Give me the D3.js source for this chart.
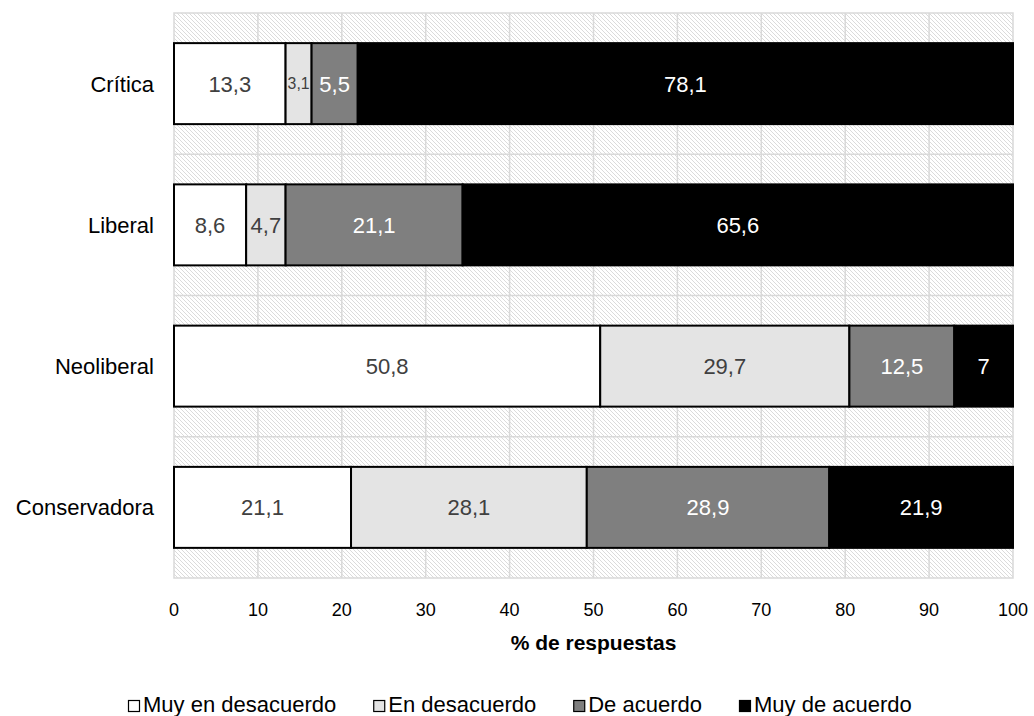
<!DOCTYPE html>
<html>
<head>
<meta charset="utf-8">
<script src="https://cdn.jsdelivr.net/npm/d3@7"></script>
<style>
  html, body { margin: 0; padding: 0; background: #fff; }
  svg { display: block; font-family: "Liberation Sans", Arial, Helvetica, sans-serif; }
</style>
</head>
<body>
<svg id="chart" width="1034" height="716"></svg>
<script>
// Orientación ideológica y grado de acuerdo (% de respuestas)
const categories = ["Crítica", "Liberal", "Neoliberal", "Conservadora"];
const seriesNames = ["Muy en desacuerdo", "En desacuerdo", "De acuerdo", "Muy de acuerdo"];
const muyEnDesacuerdo = [13.3, 8.6, 50.8, 21.1];
const enDesacuerdo    = [3.1, 4.7, 29.7, 28.1];
const deAcuerdo       = [5.5, 21.1, 12.5, 28.9];
const muyDeAcuerdo    = [78.1, 65.6, 7, 21.9];
const xTicks = [0, 10, 20, 30, 40, 50, 60, 70, 80, 90, 100];
const axisTitle = "% de respuestas";

const seriesValues = [muyEnDesacuerdo, enDesacuerdo, deAcuerdo, muyDeAcuerdo];
const fills = ["#ffffff", "#e4e4e4", "#7f7f7f", "#000000"];
const labelColors = ["#404040", "#404040", "#ffffff", "#ffffff"];

const rows = categories.map((c, i) => {
  const r = { cat: c };
  seriesNames.forEach((s, j) => r[s] = seriesValues[j][i]);
  return r;
});
const stacked = d3.stack().keys(seriesNames)(rows);

const svg = d3.select("#chart");
const plot = { left: 174, right: 1013, top: 13, bottom: 578 };

const x = d3.scaleLinear().domain([0, 100]).range([plot.left, plot.right]);
const y = d3.scaleBand().domain(categories).range([plot.top, plot.bottom])
  .paddingInner(0.4266).paddingOuter(0.2133);
const yOuter = d3.scaleBand().domain(categories).range([plot.top, plot.bottom]).padding(0);

// diagonal hatch for the plot area
const defs = svg.append("defs");
const pat = defs.append("pattern")
  .attr("id", "hatch").attr("patternUnits", "userSpaceOnUse")
  .attr("width", 4).attr("height", 4);
pat.append("rect").attr("width", 4).attr("height", 4).attr("fill", "#ffffff");
pat.append("path")
  .attr("d", "M-1,-1 L5,5 M3,-1 L5,1 M-1,3 L1,5")
  .attr("stroke", "#d2d2d2").attr("stroke-width", 0.8);

svg.append("rect")
  .attr("x", plot.left).attr("y", plot.top)
  .attr("width", plot.right - plot.left).attr("height", plot.bottom - plot.top)
  .attr("fill", "url(#hatch)");

// vertical gridlines
svg.append("g").selectAll("line").data(xTicks.slice(1, -1)).join("line")
  .attr("x1", d => x(d)).attr("x2", d => x(d))
  .attr("y1", plot.top).attr("y2", plot.bottom)
  .attr("stroke", "#d9d9d9").attr("stroke-width", 1.5);

// horizontal gridlines between categories
svg.append("g").selectAll("line").data(categories.slice(1)).join("line")
  .attr("x1", plot.left).attr("x2", plot.right)
  .attr("y1", d => yOuter(d)).attr("y2", d => yOuter(d))
  .attr("stroke", "#d9d9d9").attr("stroke-width", 1.5);

// plot border
svg.append("rect")
  .attr("x", plot.left).attr("y", plot.top)
  .attr("width", plot.right - plot.left).attr("height", plot.bottom - plot.top)
  .attr("fill", "none").attr("stroke", "#d9d9d9").attr("stroke-width", 1.5);

// stacked bars
const layers = svg.append("g").selectAll("g").data(stacked).join("g")
  .attr("fill", (d, i) => fills[i]);

layers.selectAll("rect").data(d => d).join("rect")
  .attr("x", d => x(d[0]))
  .attr("y", d => y(d.data.cat))
  .attr("width", d => x(d[1]) - x(d[0]))
  .attr("height", y.bandwidth())
  .attr("stroke", "#000").attr("stroke-width", 2);

// value labels
const fmt = v => String(v).replace(".", ",");
stacked.forEach((layer, i) => {
  layer.forEach(d => {
    const w = x(d[1]) - x(d[0]);
    const t = svg.append("text")
      .attr("x", (x(d[0]) + x(d[1])) / 2)
      .attr("y", y(d.data.cat) + y.bandwidth() / 2)
      .attr("text-anchor", "middle")
      .attr("dy", "0.36em")
      .attr("fill", labelColors[i])
      .attr("font-size", 22)
      .text(fmt(+(d[1] - d[0]).toFixed(1)));
    const tw = t.node().getComputedTextLength();
    if (tw > w - 4) t.attr("font-size", Math.max(8, 22 * (w - 4) / tw));
  });
});

// category labels
svg.append("g").selectAll("text").data(categories).join("text")
  .attr("x", plot.left - 20)
  .attr("y", d => y(d) + y.bandwidth() / 2)
  .attr("dy", "0.36em")
  .attr("text-anchor", "end")
  .attr("font-size", 22)
  .attr("fill", "#000")
  .text(d => d);

// x axis tick labels
svg.append("g").selectAll("text").data(xTicks).join("text")
  .attr("x", d => x(d))
  .attr("y", 616)
  .attr("text-anchor", "middle")
  .attr("font-size", 18)
  .attr("fill", "#000")
  .text(d => d);

// axis title
svg.append("text")
  .attr("x", (plot.left + plot.right) / 2)
  .attr("y", 650)
  .attr("text-anchor", "middle")
  .attr("font-size", 21)
  .attr("font-weight", "bold")
  .attr("fill", "#000")
  .text(axisTitle);

// legend
const legend = svg.append("g");
let lx = 128;
seriesNames.forEach((name, i) => {
  legend.append("rect")
    .attr("x", lx + 0.5).attr("y", 700.5)
    .attr("width", 11).attr("height", 11)
    .attr("fill", fills[i]).attr("stroke", "#000").attr("stroke-width", 1.2);
  const t = legend.append("text")
    .attr("x", lx + 15).attr("y", 712)
    .attr("font-size", 22).attr("fill", "#000")
    .text(name);
  lx += 15 + t.node().getComputedTextLength() + 37;
});
</script>
</body>
</html>
